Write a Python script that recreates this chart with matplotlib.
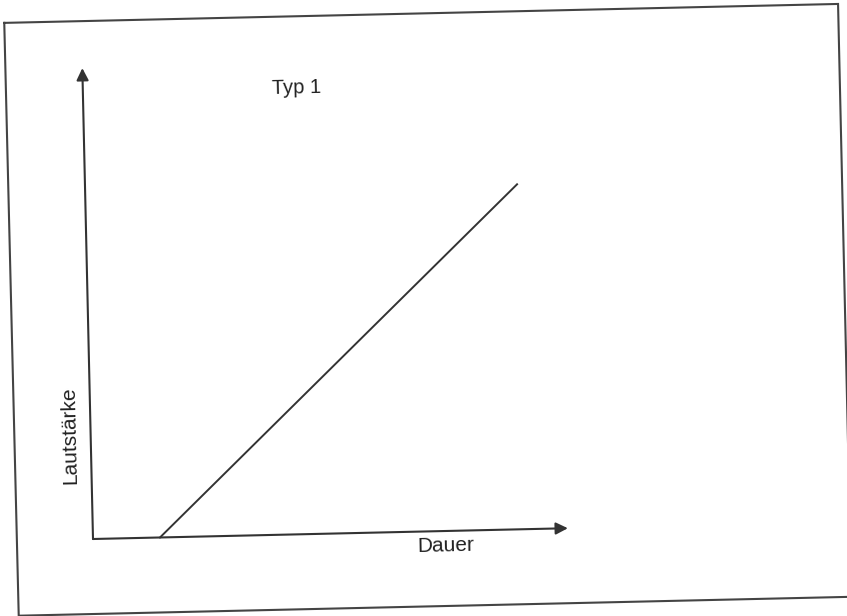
import matplotlib.pyplot as plt
from matplotlib.patches import FancyArrowPatch
from matplotlib.transforms import Affine2D

plt.rcParams['font.family'] = ['Liberation Sans', 'DejaVu Sans']

# Data (schematic: Typ 1, loudness rises linearly with duration)
dauer = [67, 432]
lautstaerke = [0, 345]
x_label = "Dauer"
y_label = "Lautstärke"
title = "Typ 1"

W, H = 847, 616
fig = plt.figure(figsize=(W / 100, H / 100), dpi=100)
ax = fig.add_axes([0, 0, 1, 1])
ax.set_xlim(0, W)
ax.set_ylim(0, H)
ax.axis('off')

# slightly tilted scan: origin of the diagram at (93, 77) px, rotated 1.3 deg
tr = Affine2D().rotate_deg(1.3).translate(93, 77) + ax.transData
ink = '#333333'

# outer frame
ax.plot([-77, 757, 757, -76, -77], [518, 518, -75, -75, 518],
        color='#444444', lw=1.5, transform=tr, solid_joinstyle='miter')

# axes with arrows
for end in [(475, 0), (0, 471)]:
    ax.add_patch(FancyArrowPatch((0, 0), end, transform=tr,
                                 arrowstyle='-|>,head_length=0.6,head_width=0.3',
                                 mutation_scale=12, color=ink, lw=1.5,
                                 shrinkA=0, shrinkB=0))

# the curve
ax.plot(dauer, lautstaerke, color=ink, lw=1.4, transform=tr)

ax.text(214, 446, title, transform=tr, rotation=1.3, fontsize=14.5,
        ha='center', va='center', color='#222222')
ax.text(352, -15, x_label, transform=tr, rotation=1.3, fontsize=15,
        ha='center', va='center', color='#222222')
ax.text(-21, 104, y_label, transform=tr, rotation=91.3, fontsize=15,
        ha='center', va='center', color='#222222')

fig.savefig('out.png', dpi=100)
